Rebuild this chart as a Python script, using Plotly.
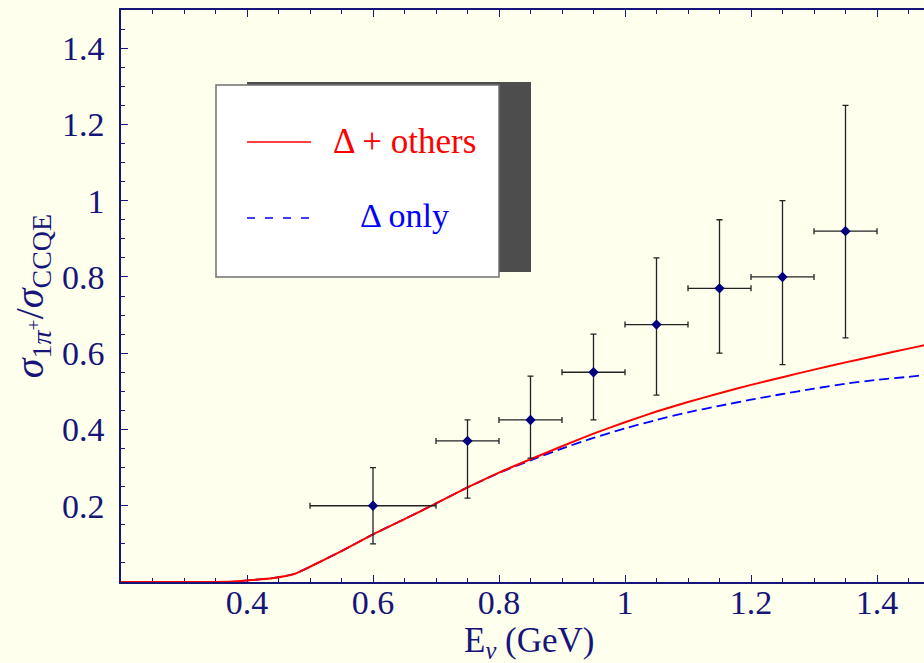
import plotly.graph_objects as go

# ---------------- data ----------------
E_nu = [0.2, 0.3, 0.35, 0.38, 0.4, 0.44, 0.475, 0.5, 0.55, 0.6, 0.65, 0.7, 0.75, 0.8,
        0.85, 0.9, 0.95, 1.0, 1.05, 1.1, 1.15, 1.2, 1.25, 1.3, 1.35, 1.4, 1.45, 1.475]
delta_others = [0, 0, 0, 0.001, 0.004, 0.010, 0.021, 0.040, 0.081, 0.125, 0.165, 0.206, 0.248, 0.287,
                0.322, 0.356, 0.389, 0.419, 0.447, 0.472, 0.495, 0.517, 0.537, 0.557, 0.576, 0.594, 0.612, 0.621]
delta_only = [0, 0, 0, 0.001, 0.004, 0.010, 0.021, 0.040, 0.081, 0.125, 0.165, 0.206, 0.248, 0.286,
              0.319, 0.350, 0.378, 0.403, 0.425, 0.445, 0.462, 0.478, 0.493, 0.507, 0.520, 0.530, 0.538, 0.543]

data_E = [0.6, 0.75, 0.85, 0.95, 1.05, 1.15, 1.25, 1.35]
data_ratio = [0.20, 0.37, 0.425, 0.55, 0.675, 0.77, 0.80, 0.92]
ratio_upper = [0.30, 0.425, 0.54, 0.65, 0.85, 0.95, 1.00, 1.25]
ratio_lower = [0.10, 0.22, 0.325, 0.425, 0.49, 0.60, 0.57, 0.64]
E_lower = [0.5, 0.7, 0.8, 0.9, 1.0, 1.1, 1.2, 1.3]
E_upper = [0.7, 0.8, 0.9, 1.0, 1.1, 1.2, 1.3, 1.4]

x_tickvals = [0.4, 0.6, 0.8, 1.0, 1.2, 1.4]
x_ticktext = ["0.4", "0.6", "0.8", "1", "1.2", "1.4"]
y_tickvals = [0.2, 0.4, 0.6, 0.8, 1.0, 1.2, 1.4]
y_ticktext = ["0.2", "0.4", "0.6", "0.8", "1", "1.2", "1.4"]

# ---------------- style ----------------
NAVY = "#15157a"
BG = "#ffffee"
FONT = "Liberation Serif, Times New Roman, Times, serif"
W, H = 924, 663
L, R, T, B = 121, 924, 10, 582


def px(x):
    return (x - L) / (R - L)


def py(y):
    return (B - y) / (B - T)


fig = go.Figure()

fig.add_trace(go.Scatter(x=E_nu, y=delta_only, mode="lines",
                         line=dict(color="#0000ff", width=1.8, dash="10px,5px",
                                   shape="spline", smoothing=0.5),
                         name="Δ only", showlegend=False))
fig.add_trace(go.Scatter(x=E_nu, y=delta_others, mode="lines",
                         line=dict(color="#ff0000", width=2, shape="spline", smoothing=0.5),
                         name="Δ + others", showlegend=False))

fig.add_trace(go.Scatter(
    x=data_E, y=data_ratio, mode="markers",
    marker=dict(symbol="diamond", size=8, color="#000080"),
    error_y=dict(type="data", symmetric=False,
                 array=[u - v for u, v in zip(ratio_upper, data_ratio)],
                 arrayminus=[v - l for l, v in zip(ratio_lower, data_ratio)],
                 color="#222222", thickness=1.3, width=3),
    error_x=dict(type="data", symmetric=False,
                 array=[u - v for u, v in zip(E_upper, data_E)],
                 arrayminus=[v - l for l, v in zip(E_lower, data_E)],
                 color="#222222", thickness=1.3, width=3),
    showlegend=False, name="data"))

shapes = [
    dict(type="rect", xref="paper", yref="paper", x0=px(247), x1=px(531), y0=py(272), y1=py(82),
         fillcolor="#4d4d4d", line=dict(width=0), layer="above"),
    dict(type="rect", xref="paper", yref="paper", x0=px(216), x1=px(499), y0=py(277), y1=py(85),
         fillcolor="white", line=dict(color="#707070", width=1.5), layer="above"),
    dict(type="line", xref="paper", yref="paper", x0=px(247), x1=px(311), y0=py(142), y1=py(142),
         line=dict(color="#ff0000", width=1.3), layer="above"),
    dict(type="line", xref="paper", yref="paper", x0=px(247), x1=px(311), y0=py(218), y1=py(218),
         line=dict(color="#0000ff", width=1.3, dash="8px,10px"), layer="above"),
]

annotations = [
    dict(xref="paper", yref="paper", x=px(331), y=py(142), xanchor="left", yanchor="middle",
         text="Δ + others", showarrow=False, font=dict(family=FONT, size=35, color="#ff0000")),
    dict(xref="paper", yref="paper", x=px(358), y=py(216), xanchor="left", yanchor="middle",
         text="Δ only", showarrow=False, font=dict(family=FONT, size=34, color="#0000ff")),
    dict(xref="paper", yref="paper", x=px(529), y=py(642), xanchor="center", yanchor="middle",
         text="E<sub><i>ν</i></sub> (GeV)", showarrow=False,
         font=dict(family=FONT, size=35, color=NAVY)),
]

fig.update_layout(
    width=W, height=H,
    margin=dict(l=L, r=W - R, t=T, b=H - B, pad=0, autoexpand=False),
    paper_bgcolor=BG, plot_bgcolor=BG,
    font=dict(family=FONT, color=NAVY, size=32),
    shapes=shapes, annotations=annotations,
    showlegend=False,
)

fig.update_xaxes(
    range=[0.2, 0.2 + (R - L) / 630], tickvals=x_tickvals, ticktext=x_ticktext,
    ticks="inside", ticklen=7, tickwidth=1, tickcolor=NAVY,
    showline=True, linecolor=NAVY, linewidth=1.5, mirror="ticks",
    showgrid=False, zeroline=False, layer="below traces", automargin=False,
    minor=dict(tick0=0, dtick=0.05, ticks="inside", ticklen=4, tickcolor=NAVY, showgrid=False),
    tickfont=dict(family=FONT, size=34, color=NAVY),
    ticklabelstandoff=-11,
)
fig.update_yaxes(
    range=[0, 1.5], tickvals=y_tickvals, ticktext=y_ticktext,
    ticks="inside", ticklen=7, tickwidth=1, tickcolor=NAVY,
    showline=True, linecolor=NAVY, linewidth=1.5, mirror=False,
    showgrid=False, zeroline=False, layer="below traces", automargin=False,
    minor=dict(tick0=0, dtick=0.05, ticks="inside", ticklen=4, tickcolor=NAVY, showgrid=False),
    tickfont=dict(family=FONT, size=34, color=NAVY),
    ticklabelstandoff=8,
    title=dict(text="<i>σ</i><sub>1<i>π</i><sup>+</sup></sub>/<i>σ</i><sub>CCQE</sub>",
               font=dict(family=FONT, size=40, color=NAVY), standoff=6),
)

fig.write_html("out.html")
